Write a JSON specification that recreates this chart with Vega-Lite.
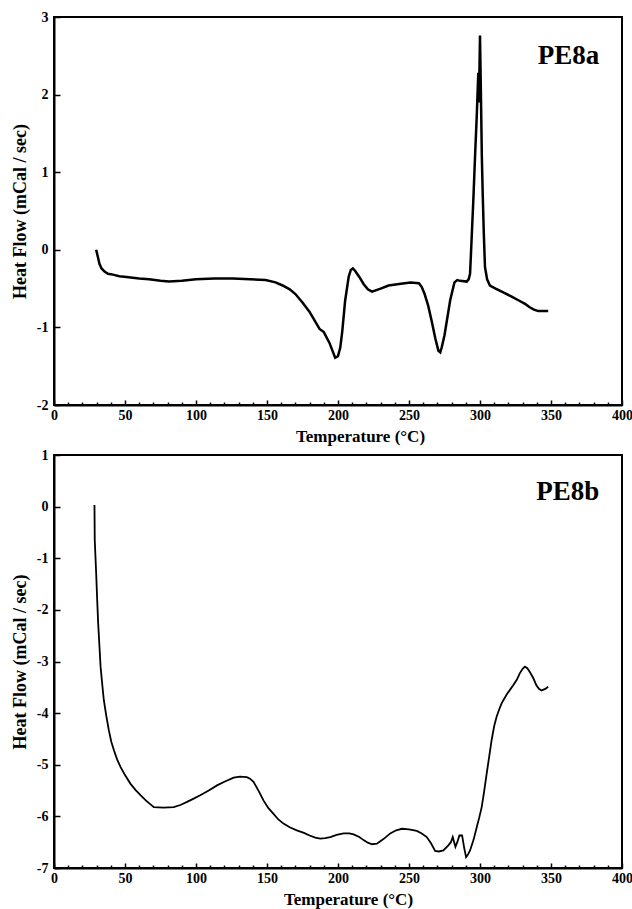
{
  "$schema": "https://vega.github.io/schema/vega-lite/v6.json",
  "background": "white",
  "padding": {"left": 10, "top": 9, "right": 0, "bottom": 5},
  "spacing": 50,
  "bounds": "flush",
  "config": {
    "font": "Liberation Serif",
    "view": {"stroke": "black", "strokeWidth": 2},
    "axis": {
      "grid": false,
      "domainColor": "black",
      "domainWidth": 2,
      "tickColor": "black",
      "tickWidth": 1.5,
      "labelFont": "Liberation Serif",
      "labelFontSize": 14,
      "labelFontWeight": "bold",
      "labelColor": "black",
      "titleFont": "Liberation Serif",
      "titleFontSize": 17,
      "titleFontWeight": "bold",
      "titleColor": "black",
      "labelFlush": false,
      "labelOverlap": false
    }
  },
  "datasets": {
    "pe8a": [
      {"T":29.7,"H":0},{"T":31,"H":-0.1},{"T":32,"H":-0.18},{"T":33.5,"H":-0.24},{"T":35.6,"H":-0.28},{"T":38,"H":-0.31},{"T":41.5,"H":-0.32},{"T":46,"H":-0.34},{"T":51,"H":-0.35},{"T":60,"H":-0.37},{"T":67,"H":-0.38},{"T":75,"H":-0.4},{"T":81,"H":-0.41},{"T":90,"H":-0.4},{"T":100,"H":-0.38},{"T":113,"H":-0.37},{"T":126,"H":-0.37},{"T":138,"H":-0.38},{"T":149,"H":-0.39},{"T":156,"H":-0.42},{"T":161,"H":-0.46},{"T":166,"H":-0.51},{"T":170,"H":-0.57},{"T":175,"H":-0.68},{"T":180,"H":-0.8},{"T":187,"H":-1.02},{"T":190,"H":-1.06},{"T":194,"H":-1.2},{"T":198,"H":-1.39},{"T":200,"H":-1.37},{"T":201.6,"H":-1.26},{"T":203,"H":-1.05},{"T":205,"H":-0.66},{"T":207.5,"H":-0.35},{"T":209,"H":-0.26},{"T":210.5,"H":-0.24},{"T":212,"H":-0.27},{"T":215,"H":-0.35},{"T":218,"H":-0.44},{"T":221,"H":-0.51},{"T":224,"H":-0.54},{"T":230,"H":-0.5},{"T":235.6,"H":-0.46},{"T":243,"H":-0.44},{"T":251,"H":-0.42},{"T":257,"H":-0.43},{"T":259,"H":-0.48},{"T":261,"H":-0.57},{"T":263.5,"H":-0.72},{"T":266,"H":-0.92},{"T":268.5,"H":-1.14},{"T":270.7,"H":-1.3},{"T":272,"H":-1.32},{"T":273,"H":-1.26},{"T":275,"H":-1.1},{"T":276.6,"H":-0.92},{"T":279,"H":-0.65},{"T":282,"H":-0.42},{"T":284,"H":-0.39},{"T":286,"H":-0.4},{"T":290.6,"H":-0.41},{"T":292,"H":-0.38},{"T":293,"H":-0.31},{"T":294,"H":0.1},{"T":295.3,"H":0.64},{"T":296.5,"H":1.2},{"T":297.7,"H":1.72},{"T":298.8,"H":2.28},{"T":299.3,"H":1.9},{"T":299.6,"H":2.3},{"T":300,"H":2.76},{"T":300.4,"H":2.3},{"T":300.7,"H":1.94},{"T":301.3,"H":1.2},{"T":301.9,"H":0.73},{"T":302.7,"H":0.2},{"T":303.5,"H":-0.22},{"T":305,"H":-0.38},{"T":307,"H":-0.46},{"T":311,"H":-0.5},{"T":316.4,"H":-0.55},{"T":322,"H":-0.6},{"T":328,"H":-0.66},{"T":332,"H":-0.7},{"T":335,"H":-0.74},{"T":338,"H":-0.77},{"T":341,"H":-0.79},{"T":345,"H":-0.79},{"T":348,"H":-0.79}
    ],
    "pe8b": [
      {"T":28.5,"H":0.03},{"T":28.7,"H":-0.65},{"T":29.7,"H":-1.29},{"T":30.4,"H":-1.8},{"T":31.1,"H":-2.26},{"T":32,"H":-2.7},{"T":32.8,"H":-3.1},{"T":34,"H":-3.45},{"T":35.1,"H":-3.75},{"T":36.8,"H":-4.05},{"T":38.6,"H":-4.33},{"T":40.3,"H":-4.55},{"T":42.2,"H":-4.72},{"T":44.5,"H":-4.9},{"T":46.8,"H":-5.04},{"T":50,"H":-5.2},{"T":53.9,"H":-5.37},{"T":57.5,"H":-5.49},{"T":60.9,"H":-5.59},{"T":65,"H":-5.7},{"T":70.3,"H":-5.82},{"T":77,"H":-5.83},{"T":84.3,"H":-5.82},{"T":89,"H":-5.78},{"T":93.7,"H":-5.72},{"T":98,"H":-5.66},{"T":103,"H":-5.59},{"T":109,"H":-5.5},{"T":114.8,"H":-5.4},{"T":120,"H":-5.33},{"T":126.5,"H":-5.25},{"T":131,"H":-5.23},{"T":135.8,"H":-5.24},{"T":138,"H":-5.27},{"T":140.5,"H":-5.33},{"T":144,"H":-5.5},{"T":147.5,"H":-5.69},{"T":151,"H":-5.84},{"T":154.6,"H":-5.95},{"T":158,"H":-6.06},{"T":161.6,"H":-6.14},{"T":166,"H":-6.21},{"T":171,"H":-6.27},{"T":176,"H":-6.32},{"T":180,"H":-6.37},{"T":184,"H":-6.41},{"T":187.5,"H":-6.43},{"T":191,"H":-6.42},{"T":194.6,"H":-6.4},{"T":199,"H":-6.36},{"T":204,"H":-6.33},{"T":208,"H":-6.33},{"T":211,"H":-6.35},{"T":215,"H":-6.4},{"T":218,"H":-6.46},{"T":221,"H":-6.51},{"T":224,"H":-6.54},{"T":227.4,"H":-6.53},{"T":232,"H":-6.44},{"T":236.8,"H":-6.33},{"T":241,"H":-6.27},{"T":245,"H":-6.24},{"T":250,"H":-6.25},{"T":255.5,"H":-6.28},{"T":259,"H":-6.33},{"T":262.5,"H":-6.4},{"T":265.5,"H":-6.52},{"T":268.4,"H":-6.67},{"T":271,"H":-6.68},{"T":274.2,"H":-6.66},{"T":277.7,"H":-6.56},{"T":279.5,"H":-6.5},{"T":280.8,"H":-6.4},{"T":282.7,"H":-6.59},{"T":284,"H":-6.5},{"T":285.5,"H":-6.37},{"T":287.4,"H":-6.37},{"T":288.8,"H":-6.6},{"T":290.2,"H":-6.79},{"T":291.5,"H":-6.74},{"T":293,"H":-6.66},{"T":295.5,"H":-6.45},{"T":297.7,"H":-6.21},{"T":299.5,"H":-6.02},{"T":301.2,"H":-5.82},{"T":303,"H":-5.5},{"T":304.7,"H":-5.17},{"T":306.5,"H":-4.84},{"T":308.2,"H":-4.52},{"T":310,"H":-4.25},{"T":311.7,"H":-4.07},{"T":313.5,"H":-3.93},{"T":315.2,"H":-3.81},{"T":319,"H":-3.63},{"T":323.4,"H":-3.46},{"T":326,"H":-3.35},{"T":328,"H":-3.23},{"T":330,"H":-3.14},{"T":331.6,"H":-3.1},{"T":333.3,"H":-3.13},{"T":335,"H":-3.2},{"T":337.5,"H":-3.32},{"T":339.7,"H":-3.46},{"T":341.5,"H":-3.53},{"T":343.3,"H":-3.56},{"T":346,"H":-3.53},{"T":348,"H":-3.49}
    ],
    "labA": [{"label": "PE8a", "T": 384, "H": 2.4}],
    "labB": [{"label": "PE8b", "T": 384, "H": 0.12}]
  },
  "vconcat": [
    {
      "width": 568,
      "height": 388,
      "resolve": {"axis": {"x": "independent"}},
      "layer": [
        {
          "data": {"name": "pe8a"},
          "mark": {"type": "line", "color": "black", "strokeWidth": 2.5},
          "encoding": {
            "x": {
              "field": "T", "type": "quantitative",
              "scale": {"domain": [0, 400], "nice": false, "zero": false},
              "axis": {
                "orient": "bottom",
                "title": "Temperature (°C)",
                "values": [0,50,100,150,200,250,300,350,400],
                "labelExpr": "datum.value + ''",
                "labelOverlap": false,
                "labelFlush": false,
                "tickSize": -5,
                "labelPadding": 8,
                "titlePadding": 6,
                "titleX": 306
              }
            },
            "y": {
              "field": "H", "type": "quantitative",
              "scale": {"domain": [-2, 3], "nice": false, "zero": false},
              "axis": {
                "title": "Heat Flow (mCal / sec)",
                "titleFontSize": 18,
                "values": [-2,-1,0,1,2,3],
                "labelExpr": "datum.value + ''",
                "labelOverlap": false,
                "tickSize": -6,
                "labelPadding": 12,
                "titlePadding": 6.5
              }
            }
          }
        },
        {
          "data": {"name": "labA"},
          "mark": {"type": "text", "align": "right", "baseline": "alphabetic", "font": "Liberation Serif", "fontSize": 27, "fontWeight": "bold", "color": "black"},
          "encoding": {
            "x": {
              "field": "T", "type": "quantitative",
              "axis": {
                "orient": "bottom",
                "title": null,
                "values": [10,20,30,40,60,70,80,90,110,120,130,140,160,170,180,190,210,220,230,240,260,270,280,290,310,320,330,340,360,370,380,390],
                "labels": false,
                "domain": false,
                "tickSize": -3
              }
            },
            "y": {
              "field": "H", "type": "quantitative",
              "axis": {
                "title": "Heat Flow (mCal / sec)",
                "titleFontSize": 18,
                "values": [-2,-1,0,1,2,3],
                "labelExpr": "datum.value + ''",
                "labelOverlap": false,
                "tickSize": -6,
                "labelPadding": 12,
                "titlePadding": 6.5
              }
            },
            "text": {"field": "label"}
          }
        }
      ]
    },
    {
      "width": 568,
      "height": 413,
      "resolve": {"axis": {"x": "independent"}},
      "layer": [
        {
          "data": {"name": "pe8b"},
          "mark": {"type": "line", "color": "black", "strokeWidth": 1.8},
          "encoding": {
            "x": {
              "field": "T", "type": "quantitative",
              "scale": {"domain": [0, 400], "nice": false, "zero": false},
              "axis": {
                "orient": "bottom",
                "title": "Temperature (°C)",
                "values": [0,50,100,150,200,250,300,350,400],
                "labelExpr": "datum.value + ''",
                "labelOverlap": false,
                "labelFlush": false,
                "tickSize": -5,
                "labelPadding": 8,
                "titlePadding": 6,
                "titleX": 294
              }
            },
            "y": {
              "field": "H", "type": "quantitative",
              "scale": {"domain": [-7, 1], "nice": false, "zero": false},
              "axis": {
                "title": "Heat Flow (mCal / sec)",
                "titleFontSize": 18,
                "values": [-7,-6,-5,-4,-3,-2,-1,0,1],
                "labelExpr": "datum.value + ''",
                "labelOverlap": false,
                "tickSize": -6,
                "labelPadding": 12,
                "titlePadding": 6.5
              }
            }
          }
        },
        {
          "data": {"name": "labB"},
          "mark": {"type": "text", "align": "right", "baseline": "alphabetic", "font": "Liberation Serif", "fontSize": 27, "fontWeight": "bold", "color": "black"},
          "encoding": {
            "x": {
              "field": "T", "type": "quantitative",
              "axis": {
                "orient": "bottom",
                "title": null,
                "values": [10,20,30,40,60,70,80,90,110,120,130,140,160,170,180,190,210,220,230,240,260,270,280,290,310,320,330,340,360,370,380,390],
                "labels": false,
                "domain": false,
                "tickSize": -3
              }
            },
            "y": {
              "field": "H", "type": "quantitative",
              "axis": {
                "title": "Heat Flow (mCal / sec)",
                "titleFontSize": 18,
                "values": [-7,-6,-5,-4,-3,-2,-1,0,1],
                "labelExpr": "datum.value + ''",
                "labelOverlap": false,
                "tickSize": -6,
                "labelPadding": 12,
                "titlePadding": 6.5
              }
            },
            "text": {"field": "label"}
          }
        }
      ]
    }
  ]
}
